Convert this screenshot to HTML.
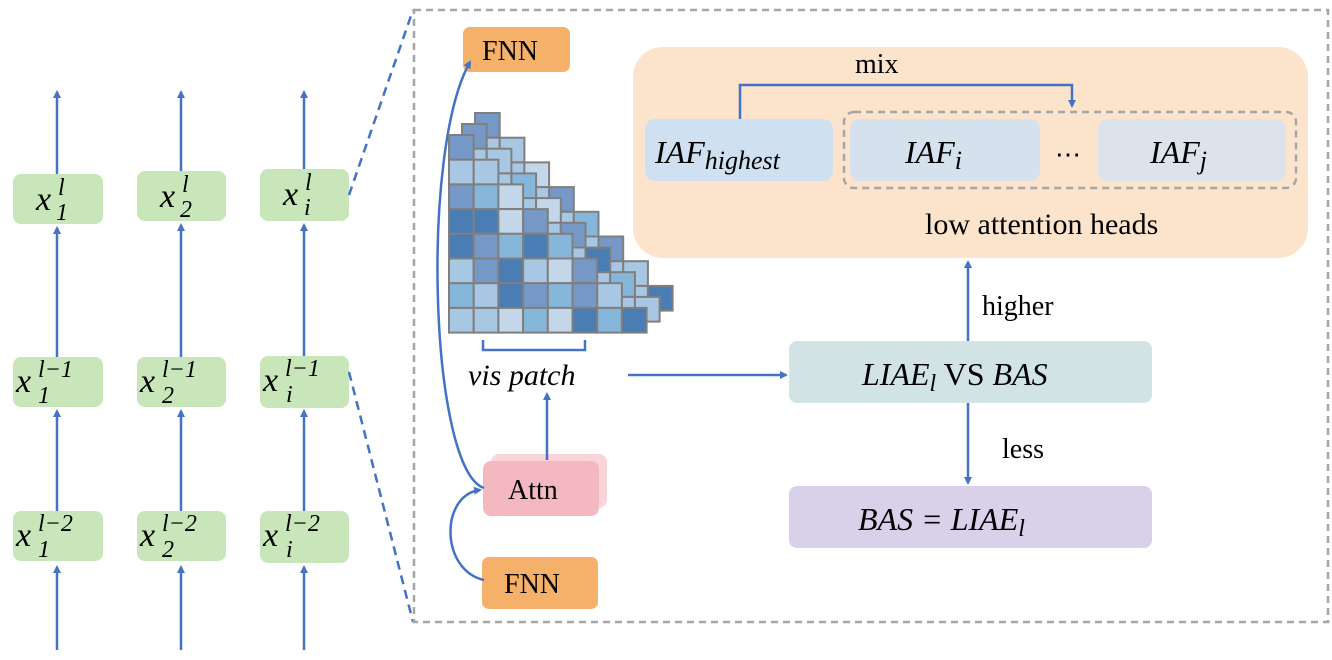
<!DOCTYPE html>
<html><head><meta charset="utf-8"><style>
body{margin:0;background:#fff;}
svg text{font-family:"Liberation Serif",serif;fill:#000;}
</style></head><body>
<svg width="1332" height="655" viewBox="0 0 1332 655" xmlns="http://www.w3.org/2000/svg">
<defs>
<marker id="ah" markerWidth="8" markerHeight="8" refX="6" refY="4" orient="auto" markerUnits="userSpaceOnUse"><path d="M0,0 L8,4 L0,8 z" fill="#4472c4"/></marker>
</defs>
<g stroke="#4472c4" stroke-width="2.5" fill="none" marker-end="url(#ah)">
<line x1="57" y1="650" x2="57" y2="567"/><line x1="181" y1="650" x2="181" y2="567"/><line x1="304" y1="650" x2="304" y2="567"/>
<line x1="57" y1="511" x2="57" y2="411"/><line x1="181" y1="511" x2="181" y2="411"/><line x1="304" y1="511" x2="304" y2="411"/>
<line x1="57" y1="357" x2="57" y2="228"/><line x1="181" y1="357" x2="181" y2="225"/><line x1="304" y1="357" x2="304" y2="225"/>
<line x1="57" y1="174" x2="57" y2="92"/><line x1="181" y1="171" x2="181" y2="92"/><line x1="304" y1="169" x2="304" y2="92"/>
</g>
<g fill="#c8e6b9">
<rect x="13" y="174" width="90" height="50" rx="8"/><rect x="137" y="171" width="89" height="50" rx="8"/><rect x="260" y="169" width="89" height="52" rx="8"/>
<rect x="13" y="357" width="90" height="50" rx="8"/><rect x="137" y="357" width="89" height="50" rx="8"/><rect x="260" y="356" width="89" height="52" rx="8"/>
<rect x="13" y="511" width="90" height="50" rx="8"/><rect x="137" y="511" width="89" height="50" rx="8"/><rect x="260" y="511" width="89" height="52" rx="8"/>
</g>
<g font-style="italic">
<g font-size="34"><text x="36" y="210">x</text><text x="160" y="207">x</text><text x="283" y="205">x</text>
<text x="16" y="392">x</text><text x="140" y="392">x</text><text x="263" y="391">x</text>
<text x="16" y="546">x</text><text x="140" y="546">x</text><text x="263" y="546">x</text></g>
<g font-size="24">
<text x="58" y="195">l</text><text x="182" y="192">l</text><text x="305" y="190">l</text>
<text x="56" y="220">1</text><text x="180" y="217">2</text><text x="304" y="215">i</text>
<text x="38" y="377">l−1</text><text x="162" y="377">l−1</text><text x="285" y="376">l−1</text>
<text x="38" y="403">1</text><text x="162" y="403">2</text><text x="286" y="402">i</text>
<text x="38" y="531">l−2</text><text x="162" y="531">l−2</text><text x="285" y="531">l−2</text>
<text x="38" y="557">1</text><text x="162" y="557">2</text><text x="286" y="557">i</text></g>
</g>
<g stroke="#4472c4" stroke-width="2.5" stroke-dasharray="9,6" fill="none">
<line x1="349" y1="195" x2="413" y2="10"/><line x1="349" y1="372" x2="413" y2="622"/>
</g>
<rect x="414" y="10" width="914" height="612" fill="none" stroke="#a6a6a6" stroke-width="2.5" stroke-dasharray="7,5"/>
<rect x="633" y="47" width="675" height="211" rx="30" fill="#fbe3cc"/>
<rect x="645" y="119" width="188" height="62" rx="10" fill="#cfe0f1"/>
<rect x="850" y="119" width="190" height="62" rx="10" fill="#d5e1ed"/>
<rect x="1098" y="119" width="188" height="62" rx="10" fill="#dde3ea"/>
<rect x="844" y="112" width="452" height="76" rx="10" fill="none" stroke="#a6a6a6" stroke-width="2.5" stroke-dasharray="7,5"/>
<polyline points="740,119 740,85 1072,85 1072,106" fill="none" stroke="#4472c4" stroke-width="2.5" marker-end="url(#ah)"/>
<text x="855" y="73" font-size="28">mix</text>
<g font-style="italic">
<text x="655" y="163" font-size="32">IAF<tspan font-size="26" dy="6">highest</tspan></text>
<text x="905" y="163" font-size="32">IAF<tspan font-size="26" dy="6">i</tspan></text>
<text x="1150" y="163" font-size="32">IAF<tspan font-size="26" dy="6">j</tspan></text>
</g>
<text x="1055" y="163" font-size="26">⋯</text>
<text x="925" y="234" font-size="30">low attention heads</text>
<rect x="463" y="27" width="107" height="45" rx="7" fill="#f5b06a"/>
<text x="482" y="60" font-size="28">FNN</text>
<rect x="482" y="557" width="116" height="52" rx="7" fill="#f5b06a"/>
<text x="504" y="593" font-size="28">FNN</text>
<rect x="491" y="454" width="116" height="54" rx="8" fill="#f9d5da"/>
<rect x="483" y="461" width="116" height="55" rx="8" fill="#f4b8c1"/>
<text x="508" y="499" font-size="28">Attn</text>
<g stroke="#4472c4" stroke-width="2.5" fill="none">
<path d="M484,580 C440,570 440,495 480,490" marker-end="url(#ah)"/>
<path d="M484,488 C430,470 420,150 470,62" marker-end="url(#ah)"/>
<line x1="547" y1="460" x2="547" y2="394" marker-end="url(#ah)"/>
<line x1="628" y1="375" x2="786" y2="375" marker-end="url(#ah)"/>
<polyline points="483,340 483,350 585,350 585,340"/>
<line x1="968" y1="341" x2="968" y2="262" marker-end="url(#ah)"/>
<line x1="968" y1="403" x2="968" y2="483" marker-end="url(#ah)"/>
</g>
<text x="468" y="385" font-size="30" font-style="italic">vis patch</text>
<g id="hm" stroke="#7f7f7f" stroke-width="2"></g>
<rect x="789" y="341" width="363" height="62" rx="8" fill="#d2e3e6"/>
<text x="862" y="385" font-size="32"><tspan font-style="italic">LIAE<tspan font-size="24" dy="6">l</tspan></tspan><tspan dy="-6"> VS </tspan><tspan font-style="italic">BAS</tspan></text>
<rect x="789" y="486" width="363" height="62" rx="8" fill="#d9d0e9"/>
<text x="858" y="530" font-size="32" font-style="italic">BAS =  LIAE<tspan font-size="24" dy="6">l</tspan></text>
<text x="982" y="315" font-size="28">higher</text>
<text x="1002" y="458" font-size="28">less</text>
<script>
(function(){
var g=document.getElementById('hm');var C={D:'#4a7db3',M:'#7698c6',L:'#a8c7e3',W:'#c4d7ea',S:'#86b7db'};
var F=[["M"],["L","L"],["M","S","W"],["D","D","W","M"],["D","M","S","D","S"],["L","M","D","L","W","M"],["S","L","D","M","S","M","L"],["L","L","W","S","W","D","S","D"]];
var B2=["M","L","W","M","S","M","L","D"],B1=["M","L","S","W","M","D","S","L"];
var s=24.7,ox=449,oy=135,ns='http://www.w3.org/2000/svg';
function r(x,y,c){var e=document.createElementNS(ns,'rect');e.setAttribute('x',x);e.setAttribute('y',y);e.setAttribute('width',s);e.setAttribute('height',s);e.setAttribute('fill',C[c]);g.appendChild(e);}
[[26,-22,B2],[13,-11,B1]].forEach(function(L){for(var i=0;i<8;i++){for(var j=0;j<=i;j++){r(ox+L[0]+j*s,oy+L[1]+i*s,j==i?L[2][i]:'L');}}});
for(var i=0;i<8;i++)for(var j=0;j<=i;j++)r(ox+j*s,oy+i*s,F[i][j]);
})();
</script>
</svg>
</body></html>
